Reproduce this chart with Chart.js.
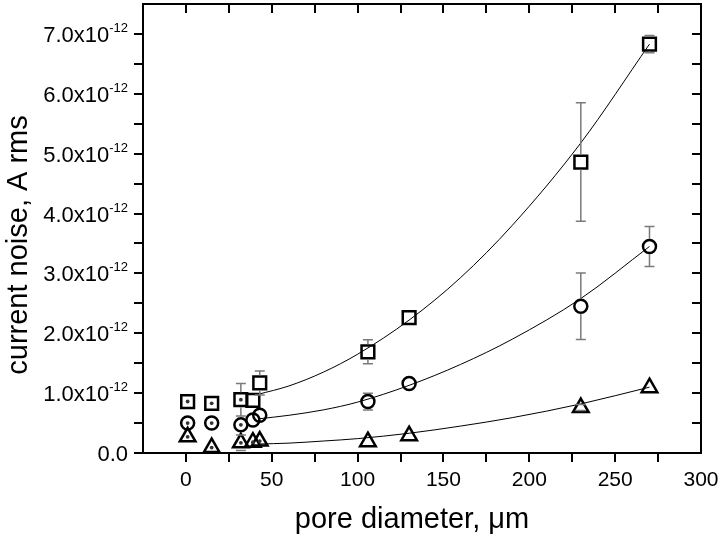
<!DOCTYPE html>
<html lang="en">
<head>
  <meta charset="UTF-8" />
  <title>Current noise vs pore diameter</title>
  <script src="https://cdn.jsdelivr.net/npm/chart.js"></script>
  <style>
    body { margin: 0; background: #fff; }
    #wrap { width: 720px; height: 539px; }
  </style>
</head>
<body>
  <div id="wrap"><canvas id="noiseChart" width="720" height="539"></canvas></div>

  <script>
    // pore diameter, um (shared by all three series)
    const diameters = [1, 15, 32, 39, 43, 106, 130, 230, 270];

    // current noise in units of 1e-12 A rms
    const squareNoise   = [0.86, 0.83, 0.89, 0.88, 1.17, 1.69, 2.26, 4.86, 6.83];
    const squareErr     = [0, 0, 0.27, 0, 0.2, 0.2, 0, 0.99, 0.145];
    const circleNoise   = [0.5, 0.5, 0.47, 0.55, 0.63, 0.86, 1.16, 2.45, 3.45];
    const circleErr     = [0, 0, 0, 0, 0, 0.14, 0, 0.555, 0.335];
    const triangleNoise = [0.27, 0.09, 0.17, 0.18, 0.2, 0.19, 0.29, 0.76, 1.09];
    const triangleErr   = [0, 0, 0.13, 0, 0, 0, 0, 0.05, 0];

    // points drawn with a dot in the middle
    const squareDots   = [0, 1, 2];
    const circleDots   = [0, 1, 2];
    const triangleDots = [0, 1, 2, 3, 4];

    // fitted curves
    const fitX        = [42, 60, 80, 100, 130, 160, 190, 230, 270];
    const squareFit   = [0.98, 1.12, 1.35, 1.65, 2.22, 2.93, 3.8, 5.18, 6.83];
    const circleFit   = [0.57, 0.63, 0.72, 0.85, 1.13, 1.48, 1.9, 2.58, 3.45];
    const triangleFit = [0.15, 0.165, 0.2, 0.24, 0.33, 0.45, 0.59, 0.82, 1.1];

    const xTickLabels = ['0', '50', '100', '150', '200', '250', '300'];
    const yTickLabels = ['0.0', '1.0', '2.0', '3.0', '4.0', '5.0', '6.0', '7.0'];

    const FONT = '"Liberation Sans", Arial, sans-serif';

    const pts = (xs, ys) => xs.map((x, i) => ({ x: x, y: ys[i] }));

    function markerSet(label, ys, style, radius) {
      return {
        label: label,
        data: pts(diameters, ys),
        pointStyle: style,
        pointRadius: radius,
        pointHoverRadius: radius,
        pointBorderWidth: 2.5,
        pointBorderColor: '#000',
        pointBackgroundColor: 'rgba(0,0,0,0)',
        showLine: false
      };
    }

    function fitSet(ys) {
      return {
        data: pts(fitX, ys),
        showLine: true,
        borderColor: '#000',
        borderWidth: 1,
        pointRadius: 0,
        cubicInterpolationMode: 'monotone',
        fill: false
      };
    }

    const series = [
      { ys: squareNoise, err: squareErr, dots: squareDots, r: 6.5 },
      { ys: circleNoise, err: circleErr, dots: circleDots, r: 6.5 },
      { ys: triangleNoise, err: triangleErr, dots: triangleDots, r: 9 }
    ];

    // error bars (gray, capped) and the center dots
    const markersExtra = {
      id: 'markersExtra',
      afterDatasetsDraw(chart) {
        const ctx = chart.ctx;
        const y = chart.scales.y;
        ctx.save();
        series.forEach((s, di) => {
          const meta = chart.getDatasetMeta(di);
          meta.data.forEach((pt, j) => {
            const e = s.err[j];
            if (e > 0) {
              const top = y.getPixelForValue(s.ys[j] + e);
              const bot = y.getPixelForValue(s.ys[j] - e);
              const gap = s.r + 1;
              ctx.strokeStyle = '#7a7a7a';
              ctx.lineWidth = 1.5;
              ctx.beginPath();
              if (top < pt.y - gap) { ctx.moveTo(pt.x, pt.y - gap); ctx.lineTo(pt.x, top); }
              if (bot > pt.y + gap) { ctx.moveTo(pt.x, pt.y + gap); ctx.lineTo(pt.x, bot); }
              ctx.moveTo(pt.x - 5, top); ctx.lineTo(pt.x + 5, top);
              ctx.moveTo(pt.x - 5, bot); ctx.lineTo(pt.x + 5, bot);
              ctx.stroke();
            }
          });
          s.dots.forEach(j => {
            const pt = meta.data[j];
            ctx.fillStyle = '#333';
            ctx.beginPath();
            ctx.arc(pt.x, pt.y, 1.9, 0, Math.PI * 2);
            ctx.fill();
          });
        });
        ctx.restore();
      }
    };

    // frame, ticks, tick labels and axis titles
    const axesFrame = {
      id: 'axesFrame',
      afterDraw(chart) {
        const ctx = chart.ctx;
        const a = chart.chartArea;
        const xs = chart.scales.x;
        const ys = chart.scales.y;
        const tl = 9;
        ctx.save();
        ctx.strokeStyle = '#000';
        ctx.lineWidth = 2;
        ctx.beginPath();
        ctx.rect(a.left, a.top, a.right - a.left, a.bottom - a.top);
        ctx.stroke();

        ctx.beginPath();
        xs.ticks.forEach(t => {
          const px = Math.round(xs.getPixelForValue(t.value));
          if (px <= a.left + 1 || px >= a.right - 1) return;
          ctx.moveTo(px, a.bottom); ctx.lineTo(px, a.bottom + tl);
          ctx.moveTo(px, a.top); ctx.lineTo(px, a.top + tl);
        });
        ys.ticks.forEach(t => {
          const py = Math.round(ys.getPixelForValue(t.value));
          if (py >= a.bottom - 1 || py <= a.top + 1) return;
          ctx.moveTo(a.left, py); ctx.lineTo(a.left - tl, py);
          ctx.moveTo(a.right, py); ctx.lineTo(a.right - tl, py);
        });
        ctx.stroke();
        // tick at 0 on the left axis
        ctx.beginPath();
        ctx.moveTo(a.left, a.bottom); ctx.lineTo(a.left - tl, a.bottom);
        ctx.stroke();

        ctx.fillStyle = '#000';
        // x tick labels
        ctx.font = '21px ' + FONT;
        ctx.textAlign = 'center';
        ctx.textBaseline = 'alphabetic';
        xTickLabels.forEach(lab => {
          ctx.fillText(lab, xs.getPixelForValue(Number(lab)), a.bottom + 33);
        });

        // y tick labels with superscript exponent
        const rightEdge = a.left - 15;
        yTickLabels.forEach(lab => {
          const py = ys.getPixelForValue(Number(lab));
          ctx.textAlign = 'right';
          if (Number(lab) === 0) {
            ctx.font = '22px ' + FONT;
            ctx.fillText(lab, rightEdge, py + 8);
            return;
          }
          ctx.font = '13px ' + FONT;
          const sup = '-12';
          const sw = ctx.measureText(sup).width;
          ctx.fillText(sup, rightEdge, py - 2);
          ctx.font = '22px ' + FONT;
          ctx.fillText(lab + 'x10', rightEdge - sw, py + 8);
        });

        // axis titles
        ctx.font = '29px ' + FONT;
        ctx.textAlign = 'center';
        ctx.fillText('pore diameter, \u03bcm', 412, 528);
        ctx.translate(27, 245);
        ctx.rotate(-Math.PI / 2);
        ctx.fillText('current noise, A rms', 0, 0);
        ctx.restore();
      }
    };

    const ctx = document.getElementById('noiseChart').getContext('2d');
    new Chart(ctx, {
      type: 'scatter',
      data: {
        datasets: [
          markerSet('square', squareNoise, 'rect', 9),
          markerSet('circle', circleNoise, 'circle', 6.5),
          markerSet('triangle', triangleNoise, 'triangle', 9),
          fitSet(squareFit),
          fitSet(circleFit),
          fitSet(triangleFit)
        ]
      },
      options: {
        responsive: false,
        animation: false,
        layout: { autoPadding: false, padding: { left: 0, right: 19, top: 4, bottom: 0 } },
        plugins: { legend: { display: false }, tooltip: { enabled: false } },
        scales: {
          x: {
            type: 'linear',
            min: -25,
            max: 300,
            ticks: { stepSize: 25, display: false },
            grid: { display: false },
            border: { display: false },
            afterFit: s => { s.height = 86; }
          },
          y: {
            type: 'linear',
            min: 0,
            max: 7.5,
            ticks: { stepSize: 0.5, display: false },
            grid: { display: false },
            border: { display: false },
            afterFit: s => { s.width = 143; }
          }
        }
      },
      plugins: [markersExtra, axesFrame]
    });
  </script>
</body>
</html>
